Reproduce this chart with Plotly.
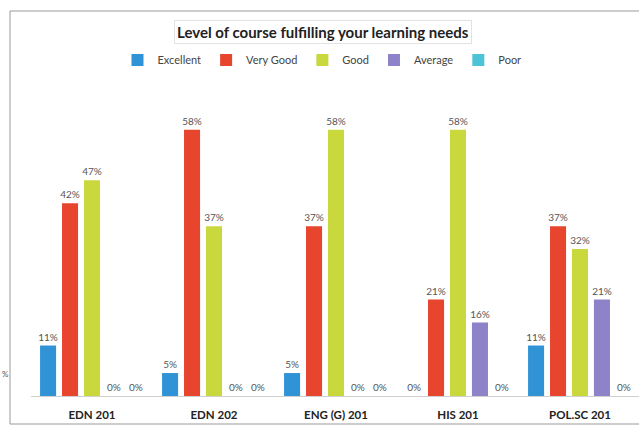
import plotly.graph_objects as go

# Course-wise share of responses for each rating
courses = ["EDN 201", "EDN 202", "ENG (G) 201", "HIS 201", "POL.SC 201"]
ratings = ["Excellent", "Very Good", "Good", "Average", "Poor"]
excellent = [11, 5, 5, 0, 11]
very_good = [42, 58, 37, 21, 37]
good = [47, 37, 58, 58, 32]
average = [0, 0, 0, 16, 21]
poor = [0, 0, 0, 0, 0]

series = [excellent, very_good, good, average, poor]
colors = ["#2f93d6", "#e8452f", "#c9d83c", "#8e83c8", "#4cc3d6"]

W, H = 639, 430
# plot area in pixels
L, R, T, B = 31, 0, 100, 34
pw = W - L - R
ph = H - T - B


def px_x(x):
    return (x - L) / pw


def px_y(y):
    return (H - B - y) / ph


label_font = dict(family="Lato, sans-serif", size=10, color="#555555")

fig = go.Figure()
for name, vals, col in zip(ratings, series, colors):
    fig.add_trace(go.Bar(
        name=name,
        x=courses,
        y=vals,
        marker=dict(color=col, line=dict(width=0)),
        text=[f"{v}%" for v in vals],
        textposition="outside",
        constraintext="none",
        cliponaxis=False,
        textfont=label_font,
        outsidetextfont=label_font,
        insidetextfont=label_font,
    ))

ymax = ph / 4.59

fig.update_layout(
    width=W,
    height=H,
    margin=dict(l=L, r=R, t=T, b=B),
    paper_bgcolor="white",
    plot_bgcolor="white",
    barmode="group",
    bargap=0.1,
    bargroupgap=0.27,
    font=dict(family="Lato, sans-serif", color="#333333"),
    showlegend=True,
    legend=dict(
        orientation="h",
        x=px_x(322),
        xanchor="center",
        y=px_y(60),
        yanchor="middle",
        font=dict(size=11, color="#444444"),
        itemwidth=30,
        tracegroupgap=0,
        bgcolor="rgba(0,0,0,0)",
    ),
    xaxis=dict(
        type="category",
        range=[-0.5, -0.5 + pw / 122],
        showline=True,
        linecolor="#cfcfcf",
        linewidth=1,
        showgrid=False,
        ticks="",
        ticklabelstandoff=8,
        tickfont=dict(family="Lato, sans-serif", size=11.5, color="#222222", weight="bold"),
    ),
    yaxis=dict(
        range=[0, ymax],
        visible=False,
    ),
    annotations=[
        dict(
            text="<b>Level of course fulfilling your learning needs</b>",
            xref="paper", yref="paper",
            x=px_x(323), y=px_y(32),
            xanchor="center", yanchor="middle",
            showarrow=False,
            font=dict(family="Lato, sans-serif", size=15, color="#222222"),
            bordercolor="#e2e2e2",
            borderwidth=1,
            borderpad=2,
        ),
        dict(
            text="%",
            xref="paper", yref="paper",
            x=px_x(0), y=px_y(374),
            xanchor="left", yanchor="middle",
            showarrow=False,
            font=dict(family="Lato, sans-serif", size=8, color="#555555"),
        ),
    ],
    shapes=[
        dict(
            type="rect",
            xref="paper", yref="paper",
            x0=px_x(10), x1=px_x(650),
            y0=px_y(424), y1=px_y(11),
            line=dict(color="#9a9a9a", width=1),
            fillcolor="rgba(0,0,0,0)",
            layer="below",
        ),
    ],
)

fig.write_html("out.html")
